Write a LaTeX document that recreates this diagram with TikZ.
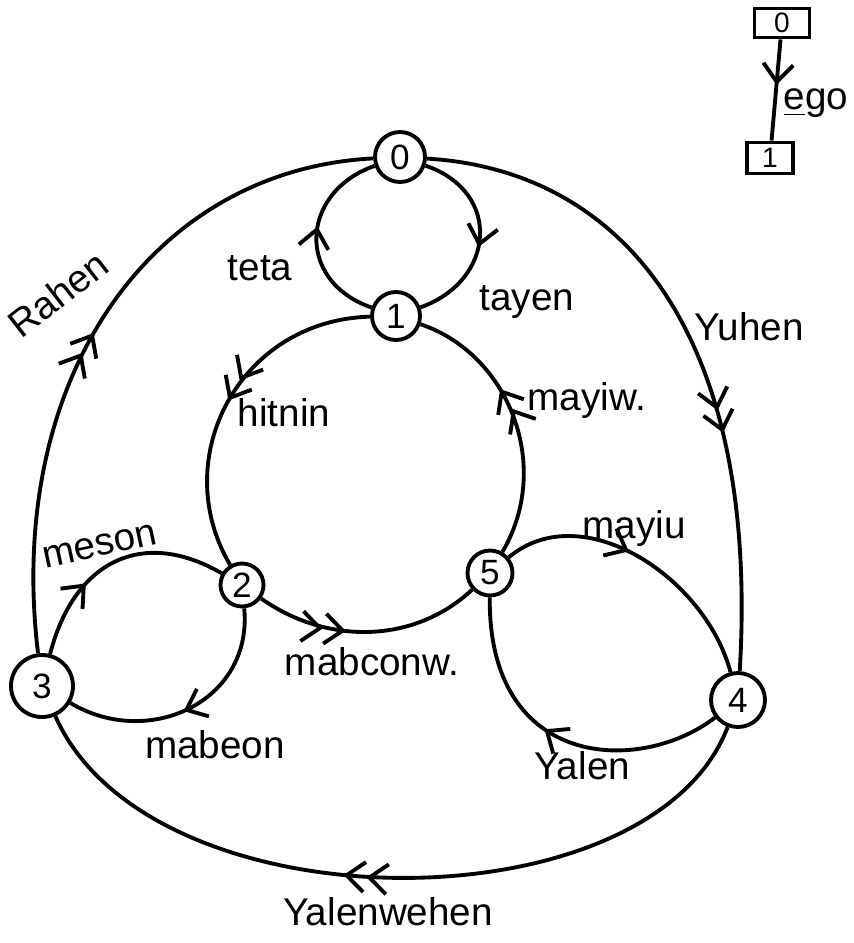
\documentclass[tikz,border=0pt]{standalone}
\usepackage{fontspec}
\setmainfont{Liberation Sans}
\usetikzlibrary{arrows.meta,decorations.markings}

\begin{document}
\begin{tikzpicture}[
    x=0.1mm, y=-0.1mm,
    line width=1.1pt,
    every node/.style={font=\fontsize{11}{13}\selectfont},
    vertex/.style={draw, circle, inner sep=0pt, font=\fontsize{10}{11}\selectfont},
    legendbox/.style={draw, rectangle, inner sep=0pt, font=\fontsize{8}{9}\selectfont},
    onearrow/.style={postaction={decorate}, decoration={markings,
        mark=at position #1 with {\arrow{Straight Barb[length=1.8mm,width=3mm]}}}},
    twoarrows/.style={postaction={decorate}, decoration={markings,
        mark=at position #1 with {\arrow{Straight Barb[length=1.8mm,width=3mm] Straight Barb[length=1.8mm,width=3mm]}}}}
]
\useasboundingbox (0,0) rectangle (853,943);

% states
\node[vertex, minimum size=5mm] (n0) at (400,157) {0};
\node[vertex, minimum size=4.8mm] (n1) at (396,316) {1};
\node[vertex, minimum size=4.3mm] (n2) at (242,585) {2};
\node[vertex, minimum size=6.2mm] (n3) at (42,686) {3};
\node[vertex, minimum size=5.4mm] (n4) at (738,700) {4};
\node[vertex, minimum size=4.5mm] (n5) at (490,573) {5};

% legend
\node[legendbox, minimum width=5.5mm, minimum height=2.9mm] (k0) at (782,23) {0};
\node[legendbox, minimum width=4.6mm, minimum height=3.1mm] (k1) at (770,158) {1};
\draw[onearrow=0.45] (k0) -- (k1);
\node (ego) at (816,103) {\underline{e}go};

% inner loops
\draw[onearrow=0.55] (n0) .. controls (503,192) and (495,281) .. (n1);
\draw[onearrow=0.55] (n1) .. controls (295,281) and (300,192) .. (n0);
\draw[twoarrows=0.5] (n1) .. controls (240,320) and (167,458) .. (n2);
\draw[twoarrows=0.4] (n2) .. controls (327,645) and (414,644) .. (n5);
\draw[twoarrows=0.62] (n5) .. controls (553,466) and (509,354) .. (n1);
\draw[onearrow=0.35] (n3) .. controls (73,564) and (140,526) .. (n2);
\draw[onearrow=0.52] (n2) .. controls (253,701) and (149,750) .. (n3);
\draw[onearrow=0.44] (n5) .. controls (582,496) and (705,577) .. (n4);
\draw[onearrow=0.55] (n4) .. controls (640,775) and (488,770) .. (n5);

% outer ring
\draw[twoarrows=0.645] (n0) .. controls (620,170) and (760,330) .. (n4);
\draw[twoarrows=0.49] (n3) .. controls (5,380) and (150,170) .. (n0);
\draw[twoarrows=0.56] (n4) .. controls (650,930) and (150,930) .. (n3);

% labels
\node (lteta) at (260,268) {teta};
\node (ltayen) at (527,302) {tayen};
\node (lhitnin) at (284,413) {hitnin};
\node[anchor=west] (lmayiw) at (514,400) {mayiw.};
\node (lmabconw) at (372,662) {mabconw.};
\node[rotate=12] (lmeson) at (100,546) {meson};
\node (lmabeon) at (215,745) {mabeon};
\node (lmayiu) at (634,528) {mayiu};
\node (lyalen) at (582,766) {Yalen};
\node (lyuhen) at (749,327) {Yuhen};
\node[rotate=38] (lrahen) at (58,294) {Rahen};
\node (lyalenwehen) at (388,912) {Yalenwehen};

\end{tikzpicture}
\end{document}
